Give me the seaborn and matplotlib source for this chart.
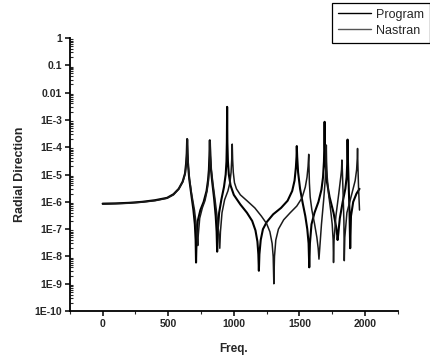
import numpy as np
import pandas as pd
import matplotlib
matplotlib.use("Agg")
import matplotlib.pyplot as plt
import matplotlib.ticker as mticker
import seaborn as sns

# ---- data ----
prog_freq = [0, 100, 200, 300, 400, 491, 540, 580, 610, 628, 636, 641, 644, 647, 652, 660, 675,
             692, 703, 709, 712, 716, 725, 745, 770, 792, 803, 810, 814, 817, 820, 826, 836, 850,
             862, 869, 873, 877, 888, 905, 925, 938, 944, 947, 949, 951, 955, 962, 975, 1000,
             1050, 1100, 1140, 1165, 1180, 1187, 1191, 1195, 1205, 1222, 1250, 1300, 1360, 1410,
             1445, 1463, 1473, 1478, 1480, 1483, 1490, 1505, 1525, 1545, 1560, 1570, 1575, 1580,
             1592, 1615, 1645, 1668, 1680, 1687, 1690, 1692, 1694, 1698, 1708, 1730, 1760, 1780,
             1788, 1791, 1795, 1808, 1830, 1850, 1860, 1865, 1867, 1870, 1875, 1882, 1887, 1893,
             1910, 1935, 1958]
prog_val = [8.6e-7, 8.8e-7, 9.2e-7, 1.0e-6, 1.15e-6, 1.4e-6, 1.9e-6, 3e-6, 5.5e-6, 1.1e-5, 2.5e-5,
            6e-5, 2e-4, 6e-5, 2e-5, 7e-6, 2e-6, 5e-7, 1.5e-7, 4e-8, 6e-9, 4e-8, 2e-7, 5e-7, 1e-6,
            2.5e-6, 6e-6, 1.5e-5, 5e-5, 1.8e-4, 5e-5, 1.5e-5, 5e-6, 1.3e-6, 3e-7, 8e-8, 1.5e-8,
            8e-8, 4e-7, 1.2e-6, 3.5e-6, 1e-5, 3e-5, 1.5e-4, 3e-3, 1.5e-4, 3e-5, 1e-5, 4e-6, 1.8e-6,
            8e-7, 4e-7, 2e-7, 9e-8, 3.5e-8, 1.2e-8, 3e-9, 1.2e-8, 4e-8, 1e-7, 1.8e-7, 3.5e-7, 6e-7,
            1.1e-6, 2.5e-6, 6e-6, 1.8e-5, 4.5e-5, 1.1e-4, 4.5e-5, 1.2e-5, 3e-6, 9e-7, 3e-7, 1e-7,
            3e-8, 4e-9, 3e-8, 1.5e-7, 4e-7, 1e-6, 2.8e-6, 8e-6, 3e-5, 1.2e-4, 8.5e-4, 1.2e-4, 3e-5,
            6e-6, 1.5e-6, 4e-7, 1.2e-7, 6e-8, 4e-8, 6e-8, 2.5e-7, 1e-6, 3e-6, 8e-6, 3e-5, 1.9e-4,
            3e-5, 5e-6, 4e-7, 2e-8, 3e-7, 1e-6, 2e-6, 3e-6]

nast_freq = [0, 100, 200, 300, 400, 491, 540, 580, 612, 630, 638, 643, 646, 649, 654, 662, 678,
             700, 713, 720, 725, 729, 740, 760, 780, 796, 807, 813, 817, 820, 823, 829, 840, 856,
             872, 884, 893, 898, 910, 930, 955, 970, 979, 984, 988, 991, 996, 1005, 1020, 1050,
             1100, 1160, 1210, 1250, 1275, 1292, 1300, 1305, 1310, 1320, 1340, 1380, 1430, 1480,
             1520, 1545, 1558, 1566, 1571, 1573, 1576, 1582, 1595, 1615, 1633, 1643, 1649, 1655,
             1668, 1685, 1695, 1700, 1703, 1705, 1707, 1712, 1722, 1738, 1750, 1757, 1760, 1764,
             1778, 1800, 1815, 1821, 1824, 1827, 1833, 1839, 1842, 1846, 1862, 1900, 1925, 1936,
             1941, 1943, 1946, 1951, 1958]
nast_val = [8.2e-7, 8.5e-7, 8.9e-7, 9.7e-7, 1.1e-6, 1.35e-6, 1.8e-6, 2.9e-6, 5.5e-6, 1.1e-5, 2.5e-5,
            6e-5, 1.9e-4, 6e-5, 2e-5, 7e-6, 2e-6, 5e-7, 1.5e-7, 6e-8, 2.5e-8, 6e-8, 2.5e-7, 6e-7,
            1.1e-6, 2.5e-6, 6e-6, 1.5e-5, 5e-5, 1.7e-4, 5e-5, 1.5e-5, 5e-6, 1.3e-6, 3e-7, 8e-8,
            2e-8, 8e-8, 4e-7, 1.2e-6, 2.5e-6, 5e-6, 1.2e-5, 3.5e-5, 1.3e-4, 3.5e-5, 1.2e-5, 5e-6,
            3e-6, 1.8e-6, 1.1e-6, 6e-7, 3e-7, 1.6e-7, 8e-8, 3e-8, 1e-8, 1e-9, 1e-8, 4e-8, 1e-7,
            2.2e-7, 4e-7, 7e-7, 1.4e-6, 3.5e-6, 8e-6, 2e-5, 5.5e-5, 2e-5, 5e-6, 1.5e-6, 5e-7,
            1.6e-7, 5e-8, 2e-8, 8e-9, 2e-8, 1.5e-7, 1.2e-6, 5e-6, 1.2e-5, 3e-5, 1.2e-4, 3e-5,
            8e-6, 2e-6, 5e-7, 1.5e-7, 4e-8, 6e-9, 4e-8, 3e-7, 2e-6, 8e-6, 1.5e-5, 3.4e-5, 1.5e-5,
            2e-6, 2e-7, 7e-9, 5e-8, 4e-7, 2e-6, 6e-6, 1.5e-5, 4e-5, 9e-5, 2e-5, 3e-6, 5e-7]

series_names = ["Program", "Nastran"]
y_ticks = [1, 1e-1, 1e-2, 1e-3, 1e-4, 1e-5, 1e-6, 1e-7, 1e-8, 1e-9, 1e-10]
y_tick_labels = ["1", "0.1", "0.01", "1E-3", "1E-4", "1E-5", "1E-6", "1E-7", "1E-8", "1E-9", "1E-10"]
x_ticks = [0, 500, 1000, 1500, 2000]

df = pd.concat([
    pd.DataFrame({"Freq.": prog_freq, "Radial Direction": prog_val, "series": series_names[0]}),
    pd.DataFrame({"Freq.": nast_freq, "Radial Direction": nast_val, "series": series_names[1]}),
], ignore_index=True)

sns.set_theme(style="ticks")
plt.rcParams["font.family"] = ["Liberation Sans", "DejaVu Sans"]

fig = plt.figure(figsize=(4.31, 3.58), dpi=100)
ax = fig.add_axes([0.162, 0.131, 0.761, 0.763])

sns.lineplot(data=df, x="Freq.", y="Radial Direction", hue="series",
             palette={"Program": "black", "Nastran": "#1a1a1a"},
             size="series", sizes={"Program": 1.5, "Nastran": 1.1},
             estimator=None, sort=False, ax=ax, legend=False)

ax.set_yscale("log")
ax.set_xlim(-250, 2250)
ax.set_ylim(1e-10, 1)
ax.set_yticks(y_ticks)
ax.set_yticklabels(y_tick_labels)
ax.yaxis.set_minor_locator(mticker.LogLocator(base=10, subs=np.arange(2, 10), numticks=20))
ax.yaxis.set_minor_formatter(mticker.NullFormatter())
ax.set_xticks(x_ticks)
ax.xaxis.set_minor_locator(mticker.MultipleLocator(250))

ax.tick_params(axis="both", which="major", direction="out", length=3.5, width=1.1,
               labelsize=7.5, color="black", pad=2)
ax.tick_params(axis="y", which="minor", direction="in", length=2, width=0.8)
ax.tick_params(axis="x", which="minor", direction="out", length=2, width=0.8)
for lbl in ax.get_xticklabels() + ax.get_yticklabels():
    lbl.set_fontweight("bold")

sns.despine(ax=ax)
for side in ["left", "bottom"]:
    ax.spines[side].set_linewidth(1.3)
    ax.spines[side].set_color("black")

ax.set_xlabel("Freq.", fontsize=8.5, fontweight="bold", labelpad=10)
ax.set_ylabel("Radial Direction", fontsize=9, fontweight="bold", labelpad=6)

handles = [plt.Line2D([], [], color="black", lw=1.0),
           plt.Line2D([], [], color="#555555", lw=1.0)]
leg = fig.legend(handles, series_names, loc="upper right", bbox_to_anchor=(0.998, 0.993),
                 fontsize=9, frameon=True, fancybox=False, framealpha=1, edgecolor="black",
                 handlelength=2.6, handletextpad=0.4, borderpad=0.5, labelspacing=0.3,
                 borderaxespad=0)
leg.get_frame().set_linewidth(0.9)

fig.savefig("out.png", dpi=100)
